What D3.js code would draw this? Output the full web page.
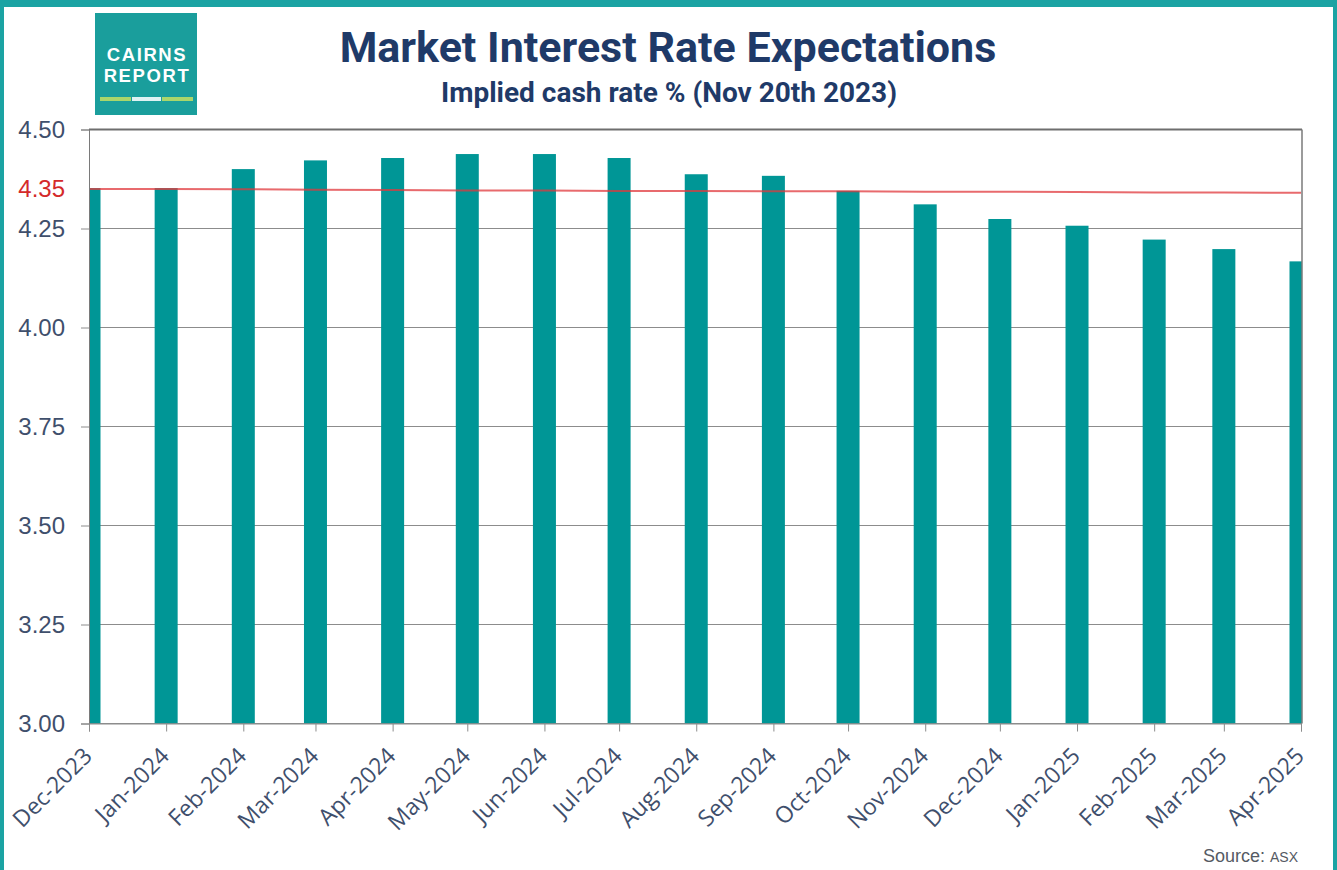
<!DOCTYPE html>
<html>
<head>
<meta charset="utf-8">
<script src="https://cdn.jsdelivr.net/npm/d3@7"></script>
<style>
  body { margin: 0; background: #ffffff; }
  svg { display: block; }
</style>
</head>
<body>
<svg id="chart" width="1337" height="870"></svg>
<script>
// Contract months (first of month) and the implied cash rate for each
const months = [
  "2023-12-01", "2024-01-01", "2024-02-01", "2024-03-01", "2024-04-01",
  "2024-05-01", "2024-06-01", "2024-07-01", "2024-08-01", "2024-09-01",
  "2024-10-01", "2024-11-01", "2024-12-01", "2025-01-01", "2025-02-01",
  "2025-03-01", "2025-04-01"
];
const impliedRate = [
  4.352, 4.352, 4.400, 4.422, 4.428, 4.438, 4.438, 4.428, 4.387, 4.383,
  4.345, 4.311, 4.274, 4.257, 4.222, 4.198, 4.167
];
// Current cash rate reference line
const cashRate = [
  4.350, 4.350, 4.349, 4.348, 4.347, 4.346, 4.346, 4.345, 4.345, 4.344,
  4.344, 4.343, 4.343, 4.342, 4.341, 4.341, 4.340
];
const yTicks = [3.00, 3.25, 3.50, 3.75, 4.00, 4.25, 4.50];
const highlightTick = 4.35;
const logoLines = ["CAIRNS", "REPORT"];

const W = 1337, H = 870;
const plot = { left: 89, right: 1302, top: 129.5, bottom: 723.5 };
const teal = "#1ba3a3";
const barColor = "#009696";
const navy = "#1f3a68";
const slate = "#3f4f6c";

const svg = d3.select("#chart");
const parse = d3.utcParse("%Y-%m-%d");
const dates = months.map(parse);

// Page frame
svg.append("rect").attr("x", 0).attr("y", 0).attr("width", W).attr("height", 7).attr("fill", teal);
svg.append("rect").attr("x", 0).attr("y", 0).attr("width", 4).attr("height", H).attr("fill", teal);
svg.append("rect").attr("x", W - 4).attr("y", 0).attr("width", 4).attr("height", H).attr("fill", teal);

// Logo
const logo = svg.append("g").attr("transform", "translate(95,13)");
logo.append("rect").attr("width", 102).attr("height", 102).attr("fill", "#1a9e9c");
logo.selectAll("text").data(logoLines).join("text")
  .attr("x", 52).attr("y", (d, i) => 48 + i * 21)
  .attr("text-anchor", "middle")
  .attr("font-family", "'Liberation Sans', Arial, sans-serif").attr("font-weight", 700)
  .attr("font-size", 18.5).attr("letter-spacing", 1.6).attr("fill", "#ffffff")
  .text(d => d);
[[5, 31, "#a9d66b"], [37, 29, "#dff2f2"], [67, 31, "#a9d66b"]].forEach(([x, w, c]) => {
  logo.append("rect").attr("x", x).attr("y", 84).attr("width", w).attr("height", 4).attr("fill", c);
});

// Titles
svg.append("text").attr("x", 668).attr("y", 62).attr("text-anchor", "middle")
  .attr("font-family", "Roboto, sans-serif").attr("font-weight", 700).attr("font-size", 43)
  .attr("fill", navy).text("Market Interest Rate Expectations");
svg.append("text").attr("x", 669).attr("y", 102).attr("text-anchor", "middle")
  .attr("font-family", "Roboto, sans-serif").attr("font-weight", 700).attr("font-size", 28)
  .attr("fill", navy).text("Implied cash rate % (Nov 20th 2023)");

// Scales
const x = d3.scaleUtc().domain([dates[0], dates[dates.length - 1]]).range([plot.left, plot.right - 1]);
const y = d3.scaleLinear().domain([3, 4.5]).range([plot.bottom, plot.top]);

// Gridlines
const grid = svg.append("g");
grid.selectAll("line").data(yTicks).join("line")
  .attr("x1", plot.left).attr("x2", plot.right)
  .attr("y1", d => y(d)).attr("y2", d => y(d))
  .attr("stroke", d => d === 4.5 ? "#6e6e6e" : "#8c8c8c")
  .attr("stroke-width", d => d === 4.5 ? 2 : 1);

// Bars, clipped to the plot area
svg.append("clipPath").attr("id", "plotClip").append("rect")
  .attr("x", plot.left).attr("y", plot.top - 5)
  .attr("width", plot.right - plot.left).attr("height", plot.bottom - plot.top + 5);
const barW = 23;
svg.append("g").attr("clip-path", "url(#plotClip)")
  .selectAll("rect").data(impliedRate).join("rect")
  .attr("x", (d, i) => x(dates[i]) - barW / 2)
  .attr("width", barW)
  .attr("y", d => y(d))
  .attr("height", d => y(3) - y(d))
  .attr("fill", barColor);

// Cash rate line
svg.append("path")
  .datum(cashRate)
  .attr("fill", "none")
  .attr("stroke", "#e0383c")
  .attr("stroke-opacity", 0.75)
  .attr("stroke-width", 2)
  .attr("d", d3.line().x((d, i) => x(dates[i])).y(d => y(d)));

// Y axis
const yAxis = svg.append("g").attr("transform", `translate(${plot.left},0)`)
  .call(d3.axisLeft(y).tickValues(yTicks).tickSize(8).tickPadding(16).tickFormat(d3.format(".2f")));
yAxis.select(".domain").attr("stroke", "#7a7a7a");
yAxis.selectAll(".tick line").attr("stroke", "#8c8c8c");
yAxis.selectAll(".tick text")
  .attr("font-family", "'Liberation Sans', Arial, sans-serif").attr("font-size", 24).attr("fill", slate);
svg.append("text").attr("x", plot.left - 24).attr("y", y(highlightTick)).attr("dy", "0.35em")
  .attr("text-anchor", "end").attr("font-family", "'Liberation Sans', Arial, sans-serif")
  .attr("font-size", 24).attr("fill", "#d42a2a").text(d3.format(".2f")(highlightTick));

// Right frame
svg.append("line").attr("x1", plot.right).attr("x2", plot.right)
  .attr("y1", plot.top).attr("y2", plot.bottom).attr("stroke", "#7a7a7a").attr("stroke-width", 1.5);

// X axis
const xAxis = svg.append("g").attr("transform", `translate(0,${plot.bottom})`)
  .call(d3.axisBottom(x).tickValues(dates).tickSize(8).tickFormat(d3.utcFormat("%b-%Y")));
xAxis.select(".domain").attr("stroke", "#8c8c8c");
xAxis.selectAll(".tick line").attr("stroke", "#8c8c8c");
xAxis.selectAll(".tick text")
  .attr("font-family", "'Open Sans', sans-serif").attr("font-size", 23).attr("fill", slate)
  .attr("text-anchor", "end").attr("x", 0).attr("y", 0).attr("dy", 0)
  .attr("transform", "translate(4,34) rotate(-45)");

// Source note
const src = svg.append("text").attr("x", 1298).attr("y", 862).attr("text-anchor", "end")
  .attr("font-family", "'Liberation Sans', Arial, sans-serif").attr("fill", "#555a63");
src.append("tspan").attr("font-size", 18).text("Source: ");
src.append("tspan").attr("font-size", 14).text("ASX");
</script>
</body>
</html>
